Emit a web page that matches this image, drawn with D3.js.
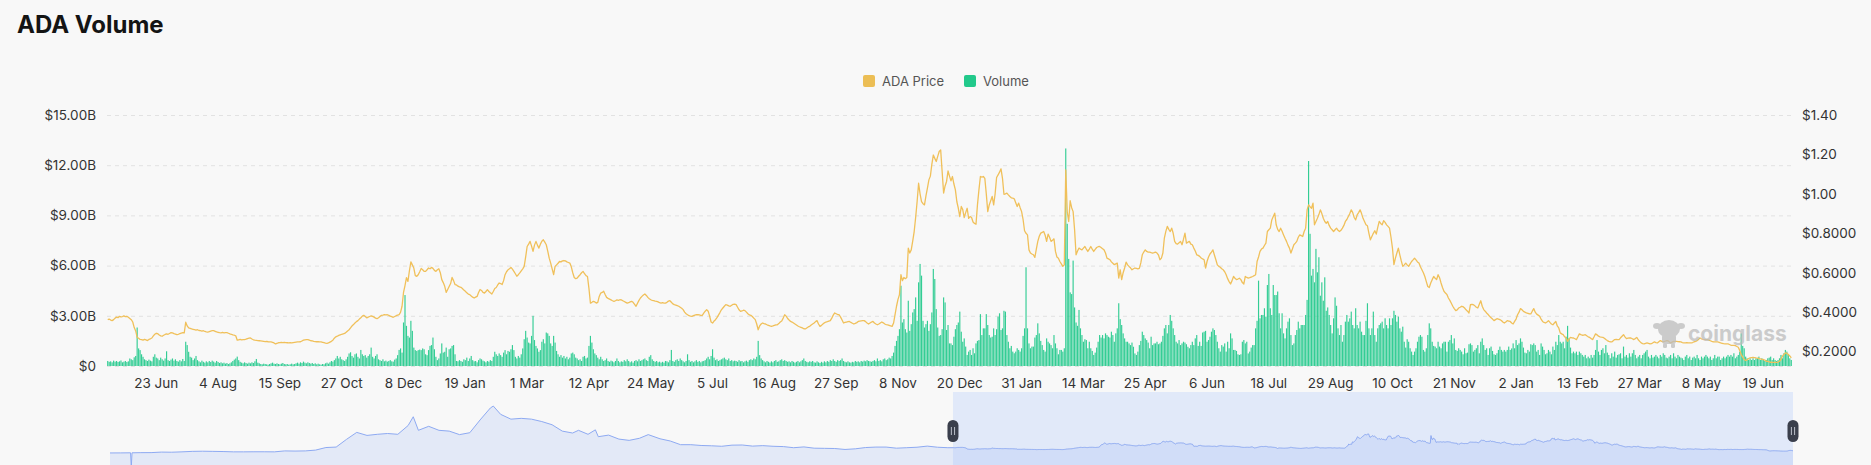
<!DOCTYPE html>
<html><head><meta charset="utf-8">
<script src="https://cdn.jsdelivr.net/npm/d3@7"></script>
<style>
html,body{margin:0;padding:0;background:#f8f8f8;}
svg{display:block;font-family:Inter,"Noto Sans",sans-serif;}
</style></head><body>
<svg id="c" width="1871" height="465"></svg>
<script>
// ---- data ----
const startDate = "2023-05-21";           // first daily category
const seriesNames = ["ADA Price", "Volume"];
// daily volume, billions USD
const volume = [
0.30,0.25,0.28,0.22,0.32,0.26,0.30,0.24,0.28,0.33,
0.22,0.26,0.30,0.24,0.28,0.45,0.40,0.35,0.52,0.60,
2.30,1.05,0.95,0.70,0.55,0.40,0.35,0.30,0.38,0.32,
0.28,0.55,0.70,0.50,0.45,0.35,0.50,0.40,0.32,0.45,
0.88,0.35,0.30,0.38,0.45,0.32,0.40,0.30,0.26,0.35,
0.28,0.42,0.30,1.45,1.25,0.85,0.55,0.50,0.35,0.45,
0.60,0.35,0.28,0.22,0.32,0.25,0.20,0.28,0.22,0.30,
0.24,0.32,0.26,0.20,0.30,0.24,0.18,0.22,0.16,0.20,
0.14,0.18,0.12,0.16,0.22,0.30,0.38,0.45,0.56,0.35,
0.25,0.20,0.16,0.22,0.18,0.14,0.20,0.16,0.22,0.18,
0.28,0.42,0.20,0.16,0.12,0.10,0.14,0.12,0.10,0.08,
0.12,0.16,0.20,0.14,0.12,0.16,0.12,0.10,0.14,0.18,
0.12,0.10,0.12,0.08,0.10,0.14,0.10,0.12,0.16,0.20,
0.14,0.22,0.18,0.26,0.20,0.16,0.22,0.18,0.14,0.18,
0.12,0.16,0.10,0.14,0.10,0.08,0.12,0.10,0.16,0.20,
0.14,0.22,0.30,0.26,0.35,0.45,0.60,0.45,0.55,0.40,
0.35,0.30,0.40,0.55,0.75,0.82,0.60,0.50,0.70,0.75,
0.55,0.45,0.96,0.70,0.60,0.65,0.50,0.60,0.70,1.10,
0.55,0.45,0.60,0.70,0.40,0.35,0.30,0.40,0.28,0.32,
0.26,0.30,0.35,0.28,0.26,0.38,0.45,0.65,0.96,1.05,
0.80,2.60,4.24,2.40,1.80,1.70,2.70,2.10,1.10,0.95,
0.90,0.95,0.98,0.95,1.05,1.00,0.70,0.65,0.95,1.20,
1.25,1.70,1.00,0.55,0.35,0.45,0.75,1.35,0.80,0.85,
1.10,0.55,1.00,1.05,1.20,1.25,0.70,0.30,0.28,0.35,
0.30,0.25,0.40,0.35,0.50,0.30,0.45,0.60,0.35,0.28,
0.30,0.22,0.35,0.45,0.40,0.32,0.28,0.22,0.30,0.26,
0.35,0.30,0.55,0.85,0.70,0.60,0.75,0.65,0.55,0.80,
0.95,0.70,0.90,0.85,1.00,1.25,0.95,0.55,0.45,0.60,
0.50,0.70,1.05,1.60,2.10,1.70,1.40,1.35,1.80,3.00,
1.55,1.20,1.05,0.85,0.95,1.45,1.60,1.35,2.00,1.95,
1.80,1.35,1.20,1.80,1.40,0.90,0.70,0.55,0.65,0.50,
0.60,0.45,0.55,0.40,0.50,0.75,0.80,0.70,0.50,0.45,
0.35,0.40,0.30,0.55,0.60,0.45,0.50,1.20,1.80,1.40,
1.00,0.75,0.65,0.50,0.40,0.55,0.40,0.30,0.35,0.45,
0.30,0.25,0.32,0.28,0.22,0.30,0.45,0.30,0.22,0.28,
0.25,0.35,0.28,0.40,0.30,0.22,0.28,0.20,0.30,0.35,
0.28,0.40,0.30,0.35,0.40,0.45,0.35,0.30,0.55,0.65,
0.40,0.30,0.25,0.30,0.22,0.26,0.20,0.25,0.20,0.30,
0.28,0.22,0.35,0.96,0.30,0.25,0.35,0.40,0.30,0.45,
0.35,0.28,0.22,0.30,0.70,0.35,0.25,0.30,0.22,0.28,
0.35,0.25,0.30,0.22,0.28,0.30,0.35,0.45,0.55,0.40,
0.60,1.00,0.50,0.35,0.40,0.30,0.35,0.40,0.45,0.50,
0.40,0.35,0.45,0.30,0.35,0.28,0.32,0.30,0.25,0.35,
0.28,0.30,0.22,0.28,0.32,0.25,0.35,0.40,0.35,0.45,
0.40,0.55,1.50,0.65,0.45,0.35,0.28,0.22,0.30,0.25,
0.20,0.28,0.22,0.30,0.35,0.25,0.28,0.35,0.40,0.30,
0.35,0.30,0.25,0.28,0.22,0.30,0.25,0.20,0.25,0.30,
0.22,0.28,0.35,0.45,0.30,0.25,0.22,0.28,0.25,0.30,
0.22,0.20,0.28,0.22,0.18,0.25,0.20,0.28,0.22,0.30,
0.25,0.35,0.30,0.40,0.30,0.25,0.35,0.30,0.35,0.45,
0.30,0.25,0.22,0.28,0.22,0.20,0.25,0.22,0.30,0.25,
0.28,0.22,0.30,0.26,0.32,0.28,0.35,0.30,0.28,0.25,
0.30,0.35,0.28,0.45,0.30,0.35,0.28,0.40,0.45,0.35,
0.40,0.50,0.45,0.60,0.80,1.20,1.50,1.80,2.20,4.80,
2.60,2.80,2.20,2.00,3.90,2.10,2.50,3.20,3.40,4.10,
2.70,5.00,6.10,5.40,2.70,2.30,2.50,2.70,2.10,2.50,
3.20,5.80,5.20,3.40,2.30,1.80,1.85,2.20,4.10,3.80,
2.15,2.45,1.35,1.35,1.25,1.75,2.20,2.45,2.60,3.25,
2.05,1.45,1.65,1.16,0.66,0.86,0.96,0.66,1.06,0.76,
1.35,1.50,1.55,3.10,1.85,2.25,2.25,3.10,2.45,1.85,
1.70,1.75,2.25,1.85,2.20,2.95,3.15,2.15,2.25,3.30,
3.25,1.85,1.45,1.06,1.20,0.86,0.76,0.86,1.06,0.96,
0.86,1.06,1.80,2.25,5.90,2.25,1.35,1.06,1.16,1.16,
1.70,1.85,2.55,1.95,1.50,1.25,0.96,0.86,1.65,1.45,
1.35,1.25,1.06,1.85,1.35,1.06,0.70,0.96,0.96,0.86,
1.06,13.0,8.50,6.40,4.40,4.30,6.30,3.50,2.60,2.40,
3.35,2.25,1.85,1.45,1.60,1.55,1.06,1.45,1.06,0.90,
0.66,0.80,1.10,1.45,1.85,1.70,1.85,1.65,1.95,1.85,
1.75,1.70,2.05,1.85,1.45,1.95,2.25,3.75,2.80,2.45,
1.95,1.65,1.45,1.45,1.35,1.25,1.40,1.15,0.75,0.66,
0.86,1.25,1.50,2.05,1.85,1.65,1.55,1.40,1.06,1.75,
1.25,1.35,1.35,1.45,1.30,1.35,1.45,1.80,2.25,2.45,
1.95,2.45,3.05,2.70,2.25,1.85,1.45,1.35,1.55,1.25,
1.35,1.45,1.40,1.30,1.15,1.06,1.25,1.45,1.25,1.65,
1.85,1.20,1.45,1.20,2.00,2.05,2.10,1.45,1.55,1.75,
2.05,2.25,2.15,1.85,1.45,1.06,0.86,1.25,1.16,1.35,
0.86,1.45,1.06,1.95,1.65,0.96,0.96,0.90,0.70,0.66,
0.70,1.45,1.55,1.35,1.45,0.75,0.86,1.10,1.25,1.25,
2.25,2.70,5.10,2.85,3.05,3.05,3.45,2.95,4.84,5.50,
3.45,3.05,4.84,4.24,4.24,4.45,3.15,2.25,3.15,1.95,
1.65,2.25,2.65,2.85,1.85,1.25,1.35,1.85,2.15,2.65,
2.25,2.45,2.45,2.45,3.05,3.95,12.25,7.90,5.40,5.80,
5.00,7.00,5.60,6.50,4.20,5.00,3.90,5.30,3.30,3.50,
3.05,2.45,1.95,2.85,4.10,3.60,2.25,1.85,2.45,1.45,
1.85,2.65,3.05,2.65,2.85,3.25,2.45,2.25,3.45,2.45,
2.25,2.65,2.05,1.85,1.85,2.70,3.75,2.25,1.85,2.25,
3.25,1.85,1.45,2.25,2.45,2.55,2.65,2.25,2.85,2.45,
2.25,2.85,2.45,2.85,3.30,3.05,2.65,2.95,2.25,2.05,
2.35,1.45,1.10,1.60,1.45,1.06,0.86,0.66,0.86,1.06,
1.45,1.75,1.85,1.75,0.96,0.86,1.06,1.85,2.55,2.25,
1.45,1.20,1.16,1.06,1.45,1.16,1.06,1.35,1.45,1.45,
0.86,1.45,1.55,1.85,1.35,1.65,0.96,0.90,1.06,0.96,
0.86,0.70,1.06,0.76,0.80,1.30,1.35,1.25,0.86,0.96,
1.06,1.25,0.76,1.45,1.65,1.25,0.96,1.06,0.66,1.06,
1.16,0.90,0.70,0.66,0.76,0.96,1.16,0.96,0.86,0.96,
0.86,0.96,1.16,0.96,1.05,1.35,1.06,1.55,1.25,1.35,
1.65,1.45,1.10,0.80,0.76,0.96,0.86,1.30,1.25,1.35,
1.25,0.86,0.96,0.66,1.35,1.16,0.96,0.70,0.76,0.96,
0.86,0.70,1.16,0.96,1.45,1.25,1.85,1.45,1.35,1.45,
1.06,1.75,2.40,1.65,1.10,0.76,0.86,0.76,0.86,0.66,
0.86,0.76,0.66,0.56,0.66,0.46,0.56,0.46,0.66,0.50,
0.66,0.96,1.55,0.86,0.66,0.96,1.06,0.76,1.25,0.80,
0.66,0.46,0.76,0.56,0.86,0.50,0.66,0.70,0.76,0.46,
1.16,0.56,0.66,0.50,0.76,0.56,0.76,0.96,0.66,0.46,
0.56,0.66,0.46,0.66,0.76,0.86,0.96,0.56,0.46,0.66,
0.50,0.56,0.66,0.56,0.46,0.66,0.56,0.76,0.66,0.50,
0.46,0.56,0.66,0.46,0.76,0.56,0.46,0.66,0.56,0.50,
0.46,0.36,0.56,0.66,0.46,0.56,0.36,0.50,0.56,0.46,
0.66,0.46,0.36,0.56,0.46,0.56,0.66,0.56,0.46,0.56,
0.36,0.46,0.66,0.46,0.56,0.56,0.36,0.46,0.56,0.46,
0.56,0.66,0.56,0.66,0.56,0.76,0.46,0.56,0.66,0.86,
1.95,1.20,1.06,0.56,0.46,0.36,0.46,0.36,0.46,0.36,
0.46,0.46,0.56,0.36,0.46,0.36,0.30,0.36,0.46,0.50,
0.56,0.36,0.46,0.36,0.30,0.36,0.46,0.66,0.46,0.76,
0.96,0.86,0.66,0.46,0.36
];
// daily ADA price, USD
const price = [
0.362,0.365,0.360,0.357,0.362,0.370,0.375,0.372,0.379,0.376,
0.378,0.381,0.377,0.379,0.374,0.368,0.362,0.350,0.322,0.305,
0.272,0.268,0.262,0.261,0.258,0.262,0.259,0.256,0.262,0.265,
0.269,0.280,0.288,0.293,0.291,0.284,0.280,0.278,0.283,0.287,
0.290,0.288,0.292,0.296,0.295,0.291,0.289,0.286,0.288,0.291,
0.294,0.296,0.295,0.349,0.330,0.320,0.318,0.315,0.313,0.311,
0.309,0.311,0.307,0.306,0.304,0.306,0.302,0.300,0.299,0.301,
0.304,0.306,0.306,0.303,0.300,0.298,0.296,0.295,0.297,0.295,
0.296,0.296,0.293,0.290,0.288,0.285,0.283,0.280,0.258,0.260,
0.262,0.260,0.261,0.261,0.263,0.266,0.268,0.269,0.264,0.260,
0.258,0.257,0.256,0.255,0.254,0.253,0.252,0.251,0.252,0.250,
0.249,0.249,0.247,0.244,0.239,0.242,0.245,0.246,0.247,0.246,
0.247,0.246,0.245,0.244,0.245,0.244,0.246,0.247,0.248,0.249,
0.249,0.250,0.254,0.258,0.260,0.261,0.261,0.258,0.255,0.254,
0.252,0.251,0.250,0.250,0.249,0.249,0.247,0.245,0.243,0.242,
0.244,0.248,0.252,0.258,0.268,0.275,0.278,0.282,0.285,0.288,
0.290,0.292,0.298,0.305,0.311,0.320,0.330,0.337,0.345,0.352,
0.357,0.365,0.372,0.380,0.384,0.378,0.371,0.375,0.378,0.381,
0.379,0.375,0.370,0.367,0.372,0.378,0.384,0.385,0.387,0.386,
0.387,0.384,0.380,0.377,0.374,0.378,0.382,0.385,0.387,0.400,
0.430,0.500,0.535,0.575,0.556,0.610,0.655,0.640,0.624,0.585,
0.582,0.590,0.605,0.622,0.615,0.607,0.607,0.615,0.624,0.620,
0.627,0.622,0.612,0.607,0.615,0.620,0.600,0.565,0.550,0.531,
0.500,0.515,0.530,0.545,0.576,0.560,0.540,0.538,0.532,0.528,
0.526,0.520,0.512,0.506,0.498,0.492,0.489,0.482,0.476,0.472,
0.476,0.480,0.500,0.515,0.510,0.500,0.497,0.505,0.514,0.505,
0.498,0.492,0.505,0.520,0.525,0.538,0.548,0.545,0.540,0.560,
0.590,0.605,0.615,0.620,0.627,0.618,0.607,0.595,0.582,0.590,
0.599,0.610,0.620,0.632,0.680,0.733,0.745,0.759,0.735,0.708,
0.740,0.759,0.740,0.725,0.745,0.760,0.767,0.755,0.742,0.710,
0.674,0.649,0.620,0.590,0.632,0.640,0.648,0.657,0.655,0.660,
0.662,0.660,0.655,0.652,0.649,0.630,0.600,0.576,0.570,0.573,
0.582,0.590,0.600,0.607,0.595,0.585,0.581,0.520,0.446,0.450,
0.455,0.452,0.446,0.450,0.480,0.497,0.500,0.506,0.490,0.475,
0.470,0.466,0.462,0.458,0.455,0.458,0.462,0.460,0.463,0.462,
0.458,0.454,0.450,0.446,0.448,0.452,0.455,0.450,0.440,0.430,
0.445,0.460,0.472,0.480,0.487,0.492,0.485,0.475,0.468,0.463,
0.460,0.458,0.456,0.455,0.452,0.448,0.446,0.448,0.446,0.446,
0.450,0.456,0.458,0.450,0.442,0.438,0.436,0.433,0.430,0.425,
0.420,0.413,0.400,0.392,0.387,0.382,0.380,0.379,0.382,0.385,
0.387,0.388,0.386,0.384,0.384,0.395,0.405,0.413,0.405,0.380,
0.350,0.345,0.355,0.362,0.372,0.385,0.398,0.412,0.421,0.430,
0.438,0.436,0.432,0.430,0.435,0.440,0.441,0.438,0.425,0.412,
0.404,0.406,0.410,0.408,0.400,0.392,0.386,0.384,0.378,0.370,
0.362,0.340,0.311,0.330,0.340,0.345,0.342,0.340,0.336,0.333,
0.330,0.328,0.330,0.333,0.336,0.336,0.342,0.350,0.355,0.370,
0.387,0.380,0.368,0.360,0.353,0.350,0.345,0.340,0.335,0.330,
0.326,0.323,0.320,0.316,0.315,0.320,0.325,0.328,0.335,0.340,
0.345,0.352,0.357,0.340,0.328,0.333,0.340,0.346,0.350,0.352,
0.355,0.357,0.370,0.385,0.396,0.392,0.388,0.387,0.375,0.360,
0.345,0.348,0.350,0.352,0.353,0.348,0.344,0.340,0.343,0.347,
0.353,0.355,0.356,0.357,0.357,0.352,0.345,0.340,0.345,0.350,
0.353,0.345,0.340,0.336,0.340,0.345,0.350,0.346,0.340,0.337,
0.336,0.333,0.330,0.328,0.345,0.387,0.430,0.465,0.489,0.590,
0.560,0.576,0.570,0.576,0.725,0.700,0.716,0.760,0.809,0.880,
0.961,1.054,1.000,0.961,0.950,0.944,0.990,1.029,1.071,1.090,
1.150,1.197,1.180,1.164,1.190,1.215,1.223,1.113,1.004,1.040,
1.063,1.116,1.090,1.066,1.088,1.050,1.020,0.960,0.927,0.885,
0.936,0.920,0.880,0.905,0.927,0.876,0.885,0.880,0.857,0.850,
0.846,0.944,1.020,1.088,1.085,1.088,1.079,1.000,0.910,0.944,
0.965,0.987,0.944,1.000,1.083,1.096,1.110,1.127,1.079,0.998,
1.000,1.004,0.995,0.987,0.980,0.978,0.975,0.955,0.936,0.953,
0.930,0.910,0.870,0.813,0.800,0.792,0.716,0.700,0.695,0.691,
0.678,0.720,0.759,0.785,0.801,0.805,0.809,0.790,0.759,0.796,
0.780,0.759,0.765,0.772,0.708,0.680,0.674,0.657,0.645,0.632,
0.640,1.122,0.910,0.860,0.965,0.930,0.910,0.818,0.691,0.710,
0.725,0.720,0.716,0.725,0.733,0.720,0.708,0.720,0.733,0.720,
0.708,0.718,0.728,0.732,0.733,0.728,0.722,0.716,0.700,0.674,
0.670,0.666,0.655,0.648,0.641,0.645,0.649,0.573,0.615,0.565,
0.600,0.624,0.654,0.640,0.632,0.625,0.615,0.620,0.624,0.622,
0.620,0.622,0.650,0.691,0.705,0.716,0.708,0.705,0.705,0.702,
0.700,0.702,0.705,0.700,0.690,0.666,0.674,0.700,0.776,0.810,
0.835,0.820,0.809,0.826,0.800,0.759,0.748,0.745,0.752,0.759,
0.742,0.770,0.801,0.750,0.755,0.759,0.745,0.742,0.725,0.710,
0.691,0.688,0.683,0.675,0.670,0.666,0.624,0.657,0.680,0.695,
0.705,0.716,0.690,0.666,0.640,0.632,0.628,0.620,0.615,0.605,
0.590,0.570,0.555,0.543,0.560,0.581,0.572,0.565,0.568,0.572,
0.565,0.550,0.543,0.581,0.576,0.573,0.575,0.578,0.581,0.585,
0.590,0.657,0.680,0.708,0.720,0.725,0.738,0.750,0.809,0.818,
0.826,0.868,0.885,0.902,0.843,0.820,0.809,0.826,0.810,0.792,
0.775,0.759,0.740,0.725,0.700,0.720,0.742,0.750,0.759,0.780,
0.792,0.788,0.784,0.809,0.826,0.919,0.944,0.935,0.927,0.953,
0.843,0.860,0.876,0.895,0.919,0.900,0.876,0.860,0.851,0.860,
0.840,0.826,0.818,0.809,0.818,0.826,0.815,0.809,0.815,0.826,
0.840,0.860,0.870,0.885,0.900,0.919,0.905,0.880,0.868,0.893,
0.905,0.919,0.900,0.876,0.860,0.843,0.838,0.800,0.767,0.784,
0.800,0.813,0.796,0.830,0.860,0.850,0.843,0.864,0.855,0.843,
0.835,0.826,0.780,0.725,0.641,0.674,0.700,0.725,0.691,0.660,
0.632,0.640,0.649,0.640,0.632,0.645,0.657,0.665,0.674,0.665,
0.655,0.649,0.630,0.615,0.600,0.581,0.555,0.530,0.525,0.548,
0.565,0.581,0.572,0.565,0.590,0.575,0.548,0.525,0.506,0.497,
0.490,0.472,0.460,0.445,0.430,0.418,0.408,0.412,0.421,0.425,
0.430,0.428,0.421,0.412,0.405,0.396,0.438,0.440,0.438,0.432,
0.425,0.421,0.440,0.458,0.430,0.413,0.405,0.396,0.388,0.379,
0.372,0.365,0.357,0.362,0.367,0.365,0.362,0.358,0.350,0.345,
0.350,0.357,0.355,0.353,0.345,0.340,0.353,0.365,0.387,0.400,
0.418,0.412,0.404,0.400,0.396,0.394,0.392,0.391,0.405,0.418,
0.400,0.390,0.385,0.379,0.365,0.353,0.348,0.345,0.350,0.357,
0.348,0.340,0.336,0.345,0.353,0.330,0.320,0.295,0.290,0.286,
0.275,0.269,0.252,0.265,0.272,0.270,0.269,0.265,0.261,0.275,
0.290,0.286,0.283,0.284,0.286,0.280,0.275,0.272,0.266,0.261,
0.275,0.290,0.285,0.278,0.275,0.273,0.272,0.268,0.261,0.256,
0.252,0.250,0.249,0.255,0.261,0.262,0.261,0.261,0.270,0.278,
0.286,0.275,0.266,0.268,0.269,0.269,0.265,0.261,0.266,0.272,
0.260,0.252,0.244,0.241,0.239,0.242,0.244,0.242,0.239,0.240,
0.245,0.249,0.246,0.244,0.250,0.256,0.252,0.249,0.252,0.255,
0.256,0.250,0.244,0.248,0.252,0.252,0.252,0.251,0.250,0.249,
0.246,0.244,0.244,0.245,0.244,0.244,0.244,0.246,0.250,0.252,
0.256,0.262,0.269,0.265,0.262,0.261,0.261,0.261,0.258,0.255,
0.252,0.250,0.249,0.249,0.249,0.247,0.244,0.242,0.240,0.239,
0.239,0.239,0.236,0.232,0.232,0.232,0.230,0.226,0.222,0.205,
0.185,0.172,0.160,0.155,0.158,0.165,0.168,0.170,0.171,0.170,
0.168,0.167,0.165,0.163,0.161,0.160,0.157,0.151,0.150,0.148,
0.146,0.145,0.145,0.145,0.145,0.147,0.151,0.160,0.177,0.185,
0.193,0.192,0.185,0.178,0.168
];
const tickDates = ["2023-06-23","2023-08-04","2023-09-15","2023-10-27","2023-12-08","2024-01-19","2024-03-01",
"2024-04-12","2024-05-24","2024-07-05","2024-08-16","2024-09-27","2024-11-08","2024-12-20","2025-01-31",
"2025-03-14","2025-04-25","2025-06-06","2025-07-18","2025-08-29","2025-10-10","2025-11-21","2026-01-02",
"2026-02-13","2026-03-27","2026-05-08","2026-06-19"];
const volumeTicks = [0, 3, 6, 9, 12, 15];
const priceTicks = [0.2, 0.4, 0.6, 0.8, 1.0, 1.2, 1.4];
const priceAxisRange = [0.127, 1.40];
// navigator: earlier price history (before the daily window), null = gap in source data
const historyDates = ["2020-03-29","2020-04-12","2020-04-26","2020-04-27","2020-04-28","2020-05-10","2020-05-24",
"2020-06-07","2020-06-21","2020-07-05","2020-07-19","2020-08-02","2020-08-16","2020-08-30","2020-09-13",
"2020-09-27","2020-10-11","2020-10-25","2020-11-08","2020-11-22","2020-12-06","2020-12-20","2021-01-03",
"2021-01-17","2021-01-31","2021-02-14","2021-02-28","2021-03-14","2021-03-28","2021-04-11","2021-04-25",
"2021-05-09","2021-05-16","2021-05-23","2021-06-06","2021-06-20","2021-07-04","2021-07-18","2021-08-01",
"2021-08-15","2021-08-29","2021-09-02","2021-09-12","2021-09-26","2021-10-10","2021-10-24","2021-11-07",
"2021-11-21","2021-12-05","2021-12-19","2021-12-27","2022-01-09","2022-01-19","2022-01-23","2022-02-06",
"2022-02-20","2022-03-06","2022-03-20","2022-04-01","2022-04-17","2022-05-01","2022-05-15","2022-05-29",
"2022-06-12","2022-06-26","2022-07-10","2022-07-24","2022-08-07","2022-08-21","2022-09-04","2022-09-18",
"2022-10-02","2022-10-16","2022-10-30","2022-11-13","2022-11-27","2022-12-11","2022-12-25","2023-01-08",
"2023-01-22","2023-02-05","2023-02-19","2023-03-05","2023-03-19","2023-04-02","2023-04-16","2023-04-30",
"2023-05-14"];
const historyPrice = [0.032,0.034,0.040,null,0.040,0.050,0.052,
0.085,0.078,0.100,0.130,0.140,0.130,0.120,0.100,
0.100,0.105,0.105,0.100,0.160,0.150,0.160,0.210,
0.370,0.400,0.880,1.320,1.130,1.200,1.250,1.200,
1.750,2.300,1.450,1.700,1.450,1.400,1.180,1.300,
2.100,2.850,2.970,2.450,2.150,2.200,2.150,2.000,
1.800,1.400,1.280,1.450,1.200,1.480,1.050,1.150,
0.900,0.820,0.950,1.180,0.920,0.780,0.550,0.550,
0.500,0.480,0.450,0.520,0.530,0.460,0.490,0.450,
0.430,0.360,0.410,0.330,0.320,0.310,0.250,0.290,
0.370,0.400,0.400,0.330,0.360,0.390,0.460,0.390,
0.360];

// ---- layout ----
const W = 1871, H = 465;
const plot = {left: 107, right: 1792, top: 115, bottom: 366};
const nav = {left: 110, right: 1793, top: 392, h: 75};
const C = {price: "#f0c05a", priceKey: "#ecbe55", vol: "#22c98b", grid: "#e2e2e2", text: "#333"};

const svg = d3.select("#c");
svg.append("rect").attr("width", W).attr("height", H).attr("fill", "#f8f8f8");

const parse = d3.utcParse("%Y-%m-%d");
const fmtDay = d3.utcFormat("%-d %b");
const start = parse(startDate);
const n = volume.length;
const dates = d3.range(n).map(i => d3.utcDay.offset(start, i));
const keyOf = d => +d;
const idxByDate = new Map(dates.map((d, i) => [keyOf(d), i]));

const x = d3.scaleBand().domain(d3.range(n)).range([plot.left, plot.right]).paddingInner(0.22).paddingOuter(0.1);
const cx = i => x(i) + x.bandwidth() / 2;
const yV = d3.scaleLinear().domain([0, d3.max(volumeTicks)]).range([plot.bottom, plot.top]);
const yP = d3.scaleLinear().domain(priceAxisRange).range([plot.bottom, plot.top]);

// title
svg.append("text").attr("x", 17).attr("y", 33).attr("font-size", 24).attr("font-weight", 700)
  .attr("fill", "#141414").text("ADA Volume");

// legend
const legend = svg.append("g").attr("font-size", 13).attr("fill", "#555");
const legendItems = [{name: seriesNames[0], color: C.priceKey, x: 863}, {name: seriesNames[1], color: C.vol, x: 964}];
legendItems.forEach(it => {
  legend.append("rect").attr("x", it.x).attr("y", 75).attr("width", 12).attr("height", 12).attr("rx", 2).attr("fill", it.color);
  legend.append("text").attr("x", it.x + 19).attr("y", 85.5).text(it.name);
});

// grid
const grid = svg.append("g");
volumeTicks.forEach(t => {
  grid.append("line").attr("x1", plot.left).attr("x2", plot.right).attr("y1", yV(t) + 0.5).attr("y2", yV(t) + 0.5)
    .attr("stroke", C.grid).attr("stroke-dasharray", "4,4");
});

// left axis labels
const fmtVol = v => v === 0 ? "$0" : "$" + v.toFixed(2) + "B";
svg.append("g").attr("font-size", 13.5).attr("fill", C.text).attr("text-anchor", "end")
  .selectAll("text").data(volumeTicks).join("text")
  .attr("x", 96).attr("y", d => yV(d)).attr("dy", "0.36em").text(fmtVol);

// right axis labels
const fmtPrice = v => "$" + (v >= 1 ? v.toFixed(2) : v.toFixed(4));
svg.append("g").attr("font-size", 13.5).attr("fill", C.text).attr("text-anchor", "start")
  .selectAll("text").data(priceTicks).join("text")
  .attr("x", 1802).attr("y", d => yP(d)).attr("dy", "0.36em").text(fmtPrice);

// x axis labels
const ticks = tickDates.map(s => idxByDate.get(keyOf(parse(s)))).filter(i => i !== undefined);
svg.append("g").attr("font-size", 13.5).attr("fill", C.text).attr("text-anchor", "middle")
  .selectAll("text").data(ticks).join("text")
  .attr("x", d => cx(d)).attr("y", 388).text(d => fmtDay(dates[d]));

// bars
svg.append("g").attr("fill", C.vol).attr("fill-opacity", 0.92)
  .selectAll("rect").data(volume).join("rect")
  .attr("x", (d, i) => x(i)).attr("width", x.bandwidth())
  .attr("y", d => yV(d)).attr("height", d => plot.bottom - yV(d));

// price line
const line = d3.line().x((d, i) => cx(i)).y(d => yP(d));
svg.append("path").datum(price).attr("d", line).attr("fill", "none")
  .attr("stroke", C.price).attr("stroke-width", 1.3).attr("stroke-linejoin", "round");

// watermark
const wm = svg.append("g").attr("opacity", 0.75).attr("fill", "#bdbdbd");
wm.append("ellipse").attr("cx", 1669).attr("cy", 329).attr("rx", 11).attr("ry", 9);
wm.append("ellipse").attr("cx", 1657).attr("cy", 326).attr("rx", 4).attr("ry", 3);
wm.append("ellipse").attr("cx", 1681).attr("cy", 326).attr("rx", 4).attr("ry", 3);
wm.append("rect").attr("x", 1662).attr("y", 334).attr("width", 14).attr("height", 10).attr("rx", 3);
wm.append("rect").attr("x", 1663).attr("y", 343).attr("width", 4).attr("height", 5).attr("rx", 1.5);
wm.append("rect").attr("x", 1671).attr("y", 343).attr("width", 4).attr("height", 5).attr("rx", 1.5);
wm.append("text").attr("x", 1688).attr("y", 341).attr("font-size", 21).attr("font-weight", 700).text("coinglass");

// ---- navigator ----
const navData = historyDates.map((s, i) => ({d: parse(s), v: historyPrice[i]}))
  .concat(dates.map((d, i) => ({d, v: price[i]})));
const xN = d3.scaleUtc().domain([navData[0].d, dates[n - 1]]).range([nav.left, nav.right]);
const ext = d3.extent(navData.filter(p => p.v != null), p => p.v);
const off = (ext[1] - ext[0]) * 0.3;
const yN = d3.scaleLinear().domain([ext[0] - off, ext[1] + off]).range([nav.top + nav.h, nav.top]);
const nyv = p => p.v == null ? nav.top + nav.h : yN(p.v);
const selX0 = xN(dates[0]), selX1 = xN(dates[n - 1]);

svg.append("rect").attr("x", selX0).attr("y", nav.top).attr("width", selX1 - selX0).attr("height", nav.h)
  .attr("fill", "rgb(135,175,255)").attr("fill-opacity", 0.2);
const area = d3.area().x(p => xN(p.d)).y0(nav.top + nav.h).y1(nyv);
svg.append("path").datum(navData).attr("d", area).attr("fill", "#8fb0f7").attr("fill-opacity", 0.2);
const nline = d3.line().x(p => xN(p.d)).y(nyv);
svg.append("path").datum(navData).attr("d", nline).attr("fill", "none").attr("stroke", "#8eaaf2").attr("stroke-width", 1);

[selX0, selX1].forEach(hx => {
  const g = svg.append("g");
  g.append("rect").attr("x", hx - 5.5).attr("y", 420).attr("width", 11).attr("height", 22).attr("rx", 5.5).attr("fill", "#3a3f4c");
  [-1.6, 1.6].forEach(dx => g.append("line").attr("x1", hx + dx).attr("x2", hx + dx).attr("y1", 427).attr("y2", 435)
    .attr("stroke", "#c9ced8").attr("stroke-width", 0.9));
});
</script>
</body></html>
